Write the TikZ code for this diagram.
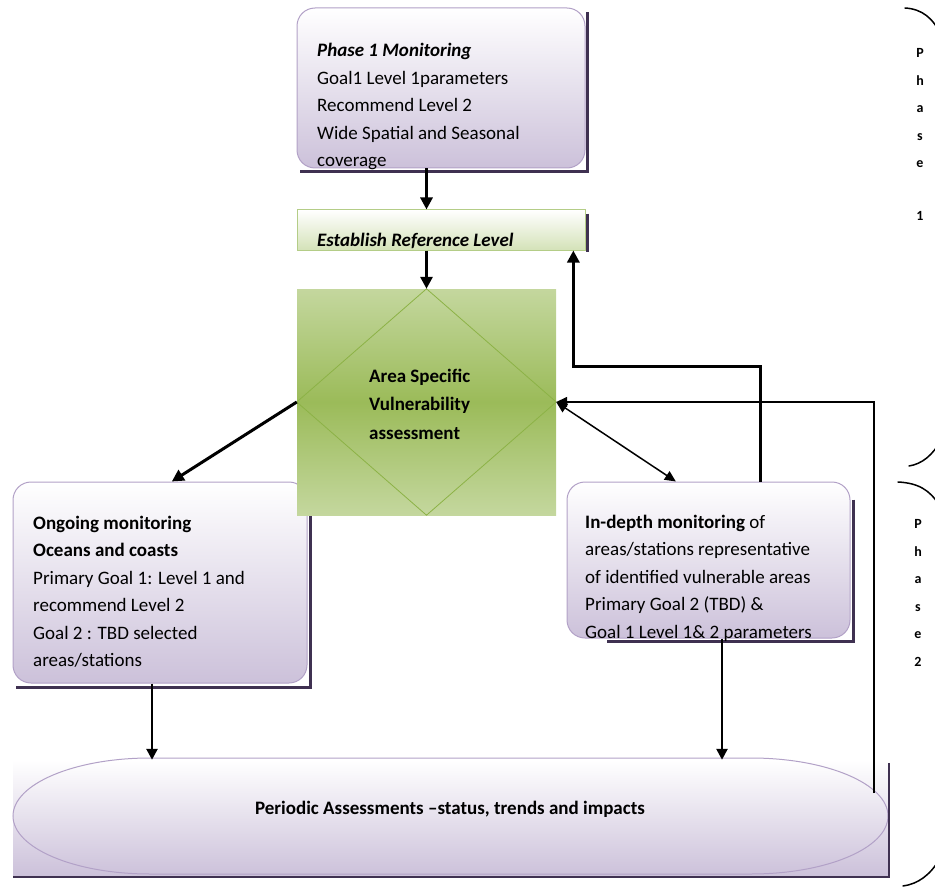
\documentclass[tikz,border=0pt]{standalone}
\usepackage{fontspec}
\setmainfont{Carlito}
\usetikzlibrary{arrows.meta,calc}
\definecolor{lavbot}{RGB}{204,193,218}
\definecolor{lavedge}{RGB}{178,161,199}
\definecolor{shadowc}{RGB}{63,49,81}
\definecolor{greenL}{RGB}{196,215,158}
\definecolor{greenD}{RGB}{155,187,89}
\definecolor{greenEst}{RGB}{212,226,184}
\definecolor{greenEdge}{RGB}{180,205,135}
\definecolor{diamc}{RGB}{140,178,70}
\tikzset{
  lavbox/.style={draw=lavedge, line width=1pt, rounded corners=18pt, top color=white, bottom color=lavbot, inner sep=0pt},
  estbox/.style={draw=greenEdge, line width=1pt, top color=white, bottom color=greenEst, inner sep=0pt},
  sqbox/.style={top color=greenL, bottom color=greenL, middle color=greenD, inner sep=0pt},
  shadowline/.style={draw=shadowc, line width=2.2pt},
  bigarrow/.style={line width=3pt, -{Triangle[length=12pt,width=12pt]}},
  midarrow/.style={line width=2.5pt, -{Triangle[length=11pt,width=11pt]}},
  thinarrow/.style={line width=1.5pt, -{Triangle[length=11pt,width=10pt]}},
  dblarrow/.style={line width=1.5pt, {Triangle[length=11pt,width=10pt]}-{Triangle[length=11pt,width=10pt]}},
  bodytext/.style={font=\fontsize{19}{27.5}\selectfont, align=left, inner sep=0pt, anchor=base west},
  phasetext/.style={font=\bfseries\fontsize{14}{27.5}\selectfont, align=center, inner sep=0pt, anchor=base},
  bracel/.style={line width=1.5pt, line cap=round}
}
\begin{document}
\begin{tikzpicture}[x=1pt,y=-1pt]
\useasboundingbox (0,0) rectangle (935,888);
\clip (0,0) rectangle (935,888);

% Phase 1 box
\node[lavbox, minimum width=288pt, minimum height=160pt] (p1) at (441,88) {};
\draw[shadowline] ([shift={(2,5)}]p1.north east) -- ([shift={(2,3)}]p1.south east) -- ([shift={(3,3)}]p1.south west);
\node[bodytext] (p1t) at (317,167) {\textbf{\textit{Phase 1 Monitoring}}\\Goal1 Level 1parameters\\Recommend Level 2\\Wide Spatial and Seasonal\\coverage};

% Establish reference level
\node[estbox, minimum width=288pt, minimum height=40pt] (est) at (441,230) {};
\draw[shadowline] ([shift={(2,4)}]est.north east) -- ([shift={(2,1)}]est.south east);
\node[bodytext] (estt) at (317,246) {\textbf{\textit{Establish Reference Level}}};

% Ongoing monitoring box
\node[lavbox, minimum width=294pt, minimum height=201pt] (og) at (160,582.5) {};
\draw[shadowline] ([shift={(3,6)}]og.north east) -- ([shift={(3,4)}]og.south east) -- ([shift={(3,4)}]og.south west);
\node[bodytext] (ogt) at (33,666.5) {\textbf{Ongoing monitoring}\\\textbf{Oceans and coasts}\\Primary Goal 1: Level 1 and\\recommend Level 2\\Goal 2 : TBD selected\\areas/stations};

% In-depth monitoring box
\node[lavbox, minimum width=283pt, minimum height=156pt] (id) at (708.5,560) {};
\draw[shadowline] ([shift={(3,18)}]id.north east) -- ([shift={(3,3)}]id.south east) -- ([shift={(40,3)}]id.south west);
\node[bodytext] (idt) at (585,638) {\textbf{In-depth monitoring} of\\areas/stations representative\\of identified vulnerable areas\\Primary Goal 2 (TBD) \&\\Goal 1 Level 1\& 2 parameters};

% Green square with diamond
\node[sqbox, minimum width=259pt, minimum height=226pt] (sq) at (426.5,402) {};
\draw[diamc, line width=0.8pt] (sq.north) -- (sq.east) -- (sq.south) -- (sq.west) -- cycle;
\node[bodytext, font=\bfseries\fontsize{19}{28.5}\selectfont] (sqt) at (369,439) {Area Specific\\Vulnerability\\assessment};

% Periodic assessment
\node[top color=white, bottom color=lavbot, inner sep=0pt, minimum width=875pt, minimum height=116pt] (per) at (450.5,818) {};
\draw[lavedge, line width=1pt] (150,758) -- (751,758) arc[start angle=-90, end angle=90, x radius=137, y radius=58] -- (150,874) arc[start angle=90, end angle=270, x radius=137, y radius=58] -- cycle;
\draw[shadowline] ([shift={(1,3)}]per.north east) -- ([shift={(1,1)}]per.south east) -- ([shift={(0,1)}]per.south west);
\node[font=\bfseries\fontsize{19}{24}\selectfont, inner sep=0pt, anchor=base] (pert) at (450,814) {Periodic Assessments –status, trends and impacts};

% Connectors
\draw[bigarrow] (p1.south -| sq.north) -- (est.north -| sq.north);
\draw[bigarrow] (est.south -| sq.north) -- (sq.north);
\draw[bigarrow] (sq.west) -- ($(og.north west)!0.54!(og.north east)$);
\draw[dblarrow] (sq.east) -- ($(id.north west)!0.385!(id.north east)$);
\draw[bigarrow] ($(id.north west)!0.682!(id.north east)$) -- ++(0,-115) -| ($(est.south west)!0.958!(est.south east)$);
\coordinate (fb) at (874,793);
\draw[thinarrow] (fb) |- (sq.east);
\draw[midarrow] (og.south -| 152,0) -- (per.north -| 152,0);
\draw[midarrow] (id.south -| 722,0) -- (per.north -| 722,0);

% Phase braces
\draw[bracel] (905,8) .. controls (922,9) and (933,18) .. (941,35) -- (941,440) .. controls (933,455) and (922,464) .. (909,466);
\node[phasetext] (ph1) at (920,220) {P\\h\\a\\s\\e\\[25pt]1};
\draw[bracel] (898,482) .. controls (918,483) and (930,490) .. (939,505) -- (939,860) .. controls (930,875) and (918,884) .. (903,886);
\node[phasetext] (ph2) at (918,666) {P\\h\\a\\s\\e\\2};
\end{tikzpicture}
\end{document}
